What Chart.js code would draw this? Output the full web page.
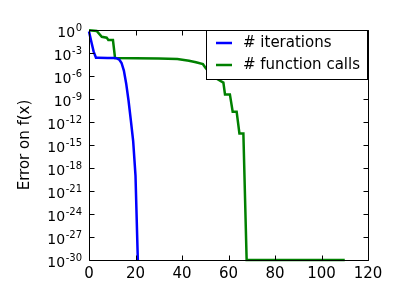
<!DOCTYPE html>
<html>
<head>
<meta charset="utf-8">
<script src="https://cdn.jsdelivr.net/npm/chart.js@4/dist/chart.umd.min.js"></script>
<style>
html,body{margin:0;padding:0;background:#fff;}
canvas{display:block;}
</style>
</head>
<body>
<canvas id="c" width="400" height="300"></canvas>
<script>
// Data
const iterX = [0, 1, 2, 3, 4, 8, 11, 12, 13, 14, 15, 16, 17, 18, 19, 20, 21];
const iterY = [0.63, 0.03, 1.5e-3, 2.4e-4, 2.4e-4, 2.3e-4, 2.2e-4, 2.0e-4, 1.4e-4, 5e-5, 5e-6, 1e-7, 6.3e-10, 1.6e-12, 3.2e-15, 1e-19, 1e-30];

const callsX = [0, 3.3, 5.5, 7.6, 8.3, 10.3, 11.2, 20, 30, 38, 43, 46, 49, 50, 53, 56, 57.8, 58.5, 60.6, 61.8, 63.5, 64.7, 66.4, 67.8, 110];
const callsY = [0.91, 0.74, 0.13, 0.10, 0.049, 0.049, 2.3e-4, 2.1e-4, 1.9e-4, 1.6e-4, 1.0e-4, 6.3e-5, 3.5e-5, 1.3e-5, 1e-6, 2.8e-7, 1.4e-7, 4e-9, 4e-9, 2.2e-11, 2.2e-11, 3.2e-14, 3.2e-14, 1e-30, 1e-30];

const seriesLabels = ['# iterations', '# function calls'];
const xTicks = [0, 20, 40, 60, 80, 100, 120];
const yTicks = [1e0, 1e-3, 1e-6, 1e-9, 1e-12, 1e-15, 1e-18, 1e-21, 1e-24, 1e-27, 1e-30];
const yTickBase = '10';
const yTickExp = ['0', '-3', '-6', '-9', '-12', '-15', '-18', '-21', '-24', '-27', '-30'];

const FONT = "'DejaVu Sans', sans-serif";

function pts(xs, ys){ return xs.map((x,i)=>({x:x, y:ys[i]})); }

const framePlugin = {
  id: 'frame',
  afterDraw(chart){
    const ctx = chart.ctx, a = chart.chartArea;
    const xs = chart.scales.x, ys = chart.scales.y;
    ctx.save();
    ctx.strokeStyle = '#000';
    ctx.lineWidth = 1;
    const L = Math.round(a.left)+0.5, R = Math.round(a.right)+0.5, T = Math.round(a.top)+0.5, B = Math.round(a.bottom)+0.5;
    ctx.beginPath();
    ctx.rect(L, T, R-L, B-T);
    ctx.stroke();
    const tl = 5;
    ctx.beginPath();
    xTicks.forEach(v=>{
      const p = Math.round(xs.getPixelForValue(v))+0.5;
      ctx.moveTo(p, B); ctx.lineTo(p, B-tl);
      ctx.moveTo(p, T); ctx.lineTo(p, T+tl);
    });
    yTicks.forEach(v=>{
      const p = Math.round(ys.getPixelForValue(v))+0.5;
      ctx.moveTo(L, p); ctx.lineTo(L+tl, p);
      ctx.moveTo(R, p); ctx.lineTo(R-tl, p);
    });
    ctx.stroke();

    // y tick labels: "10" with superscript exponent
    ctx.fillStyle = '#000';
    ctx.textBaseline = 'alphabetic';
    ctx.textAlign = 'right';
    yTicks.forEach((v, i)=>{
      const p = ys.getPixelForValue(v);
      const rx = a.left - 7;
      ctx.font = "10px " + FONT;
      const ew = ctx.measureText(yTickExp[i]).width;
      ctx.fillText(yTickExp[i], rx, p + 0.5);
      ctx.font = "14px " + FONT;
      ctx.fillText(yTickBase, rx - ew - 0.5, p + 6.5);
    });

    // legend
    const lx = 206.5, ly = 30.5, lw = 161, lh = 49;
    ctx.strokeStyle = '#000';
    ctx.lineWidth = 1;
    ctx.fillStyle = '#fff';
    ctx.fillRect(lx, ly, lw, lh);
    ctx.strokeRect(lx, ly, lw, lh);
    ctx.font = "15px " + FONT;
    ctx.textBaseline = 'middle';
    ctx.textAlign = 'left';
    chart.data.datasets.forEach((ds, i)=>{
      const yy = 43 + i*22;
      ctx.strokeStyle = ds.borderColor;
      ctx.lineWidth = 2.5;
      ctx.beginPath();
      ctx.moveTo(216, yy); ctx.lineTo(232, yy);
      ctx.stroke();
      ctx.fillStyle = '#000';
      ctx.fillText(ds.label, 243, yy);
    });
    ctx.restore();
  }
};

new Chart(document.getElementById('c'), {
  type: 'line',
  data: {
    datasets: [
      { label: seriesLabels[0], data: pts(iterX, iterY), borderColor: '#0000ff', borderWidth: 2.5, pointRadius: 0, tension: 0, fill: false, clip: 3 },
      { label: seriesLabels[1], data: pts(callsX, callsY), borderColor: '#008000', borderWidth: 2.5, pointRadius: 0, tension: 0, fill: false, clip: 3 }
    ]
  },
  options: {
    responsive: false,
    animation: false,
    devicePixelRatio: 1,
    layout: { padding: { left: 0, top: 30, right: 32, bottom: 0 } },
    plugins: { legend: { display: false }, tooltip: { enabled: false } },
    scales: {
      x: {
        type: 'linear', min: 0, max: 120,
        afterBuildTicks(s){ s.ticks = xTicks.map(v=>({value:v})); },
        afterFit(s){ s.height = 40; },
        grid: { display: true, drawOnChartArea: false, drawTicks: false },
        border: { display: false },
        ticks: { color: '#000', font: { family: FONT, size: 15 }, padding: 5, maxRotation: 0, autoSkip: false }
      },
      y: {
        type: 'logarithmic', min: 1e-30, max: 1,
        afterBuildTicks(s){ s.ticks = yTicks.map(v=>({value:v})); },
        afterFit(s){ s.width = 89; },
        grid: { display: true, drawOnChartArea: false, drawTicks: false },
        border: { display: false },
        ticks: { display: false },
        title: { display: true, text: 'Error on f(x)', color: '#000', font: { family: FONT, size: 15 }, padding: { top: 16, bottom: 0 } }
      }
    }
  },
  plugins: [framePlugin]
});
</script>
</body>
</html>
